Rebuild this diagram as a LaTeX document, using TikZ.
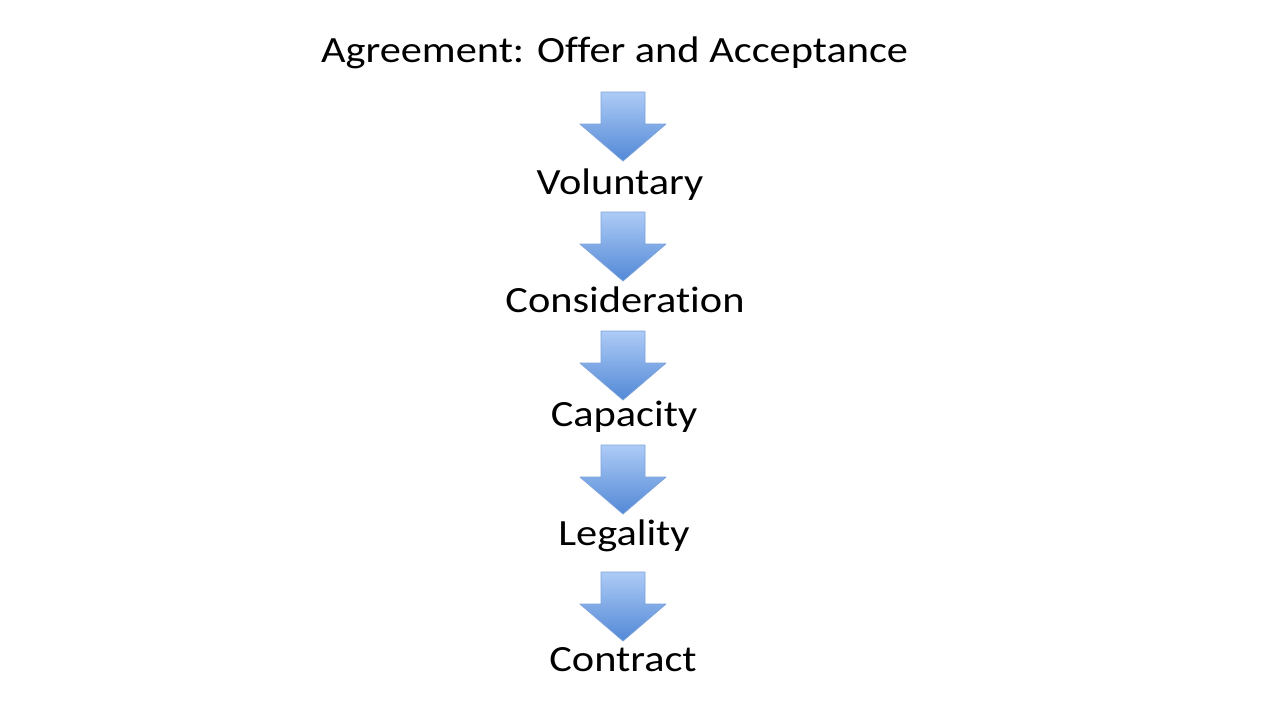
\documentclass[tikz,border=0pt]{standalone}
\usepackage{fontspec}
\setmainfont{Carlito}[Ligatures=NoCommon, FakeStretch=1.145]
\definecolor{arrtop}{HTML}{ADCBF6}
\definecolor{arrbot}{HTML}{5288D6}
\definecolor{arredge}{HTML}{7DA3DC}
\tikzset{
  lbl/.style={font=\fontsize{37}{40}\selectfont, text=black, inner sep=0pt, anchor=base},
  blockarrow/.pic={
    \path[top color=arrtop, bottom color=arrbot, draw=arredge, line width=0.8pt, line join=round]
      (-22,0) -- (22,0) -- (22,32) -- (43,32) -- (0,69) -- (-43,32) -- (-22,32) -- cycle;
  }
}
\begin{document}
\begin{tikzpicture}[x=1pt,y=-1pt]
\useasboundingbox (0,0) rectangle (1280,720);
\fill[white] (0,0) rectangle (1280,720);
\node[lbl] (agree) at (614.5,62.5) {Agreement: Offer and Acceptance};
\node[lbl] (vol) at (620,194.5) {Voluntary};
\node[lbl] (cons) at (625,312.5) {Consideration};
\node[lbl] (cap) at (624,426.5) {Capacity};
\node[lbl] (leg) at (624,545.5) {Legality};
\node[lbl] (contr) at (623,671.5) {Contract};
\pic at (623,92) {blockarrow};
\pic at (623,212) {blockarrow};
\pic at (623,331) {blockarrow};
\pic at (623,445) {blockarrow};
\pic at (623,572) {blockarrow};
\end{tikzpicture}
\end{document}
